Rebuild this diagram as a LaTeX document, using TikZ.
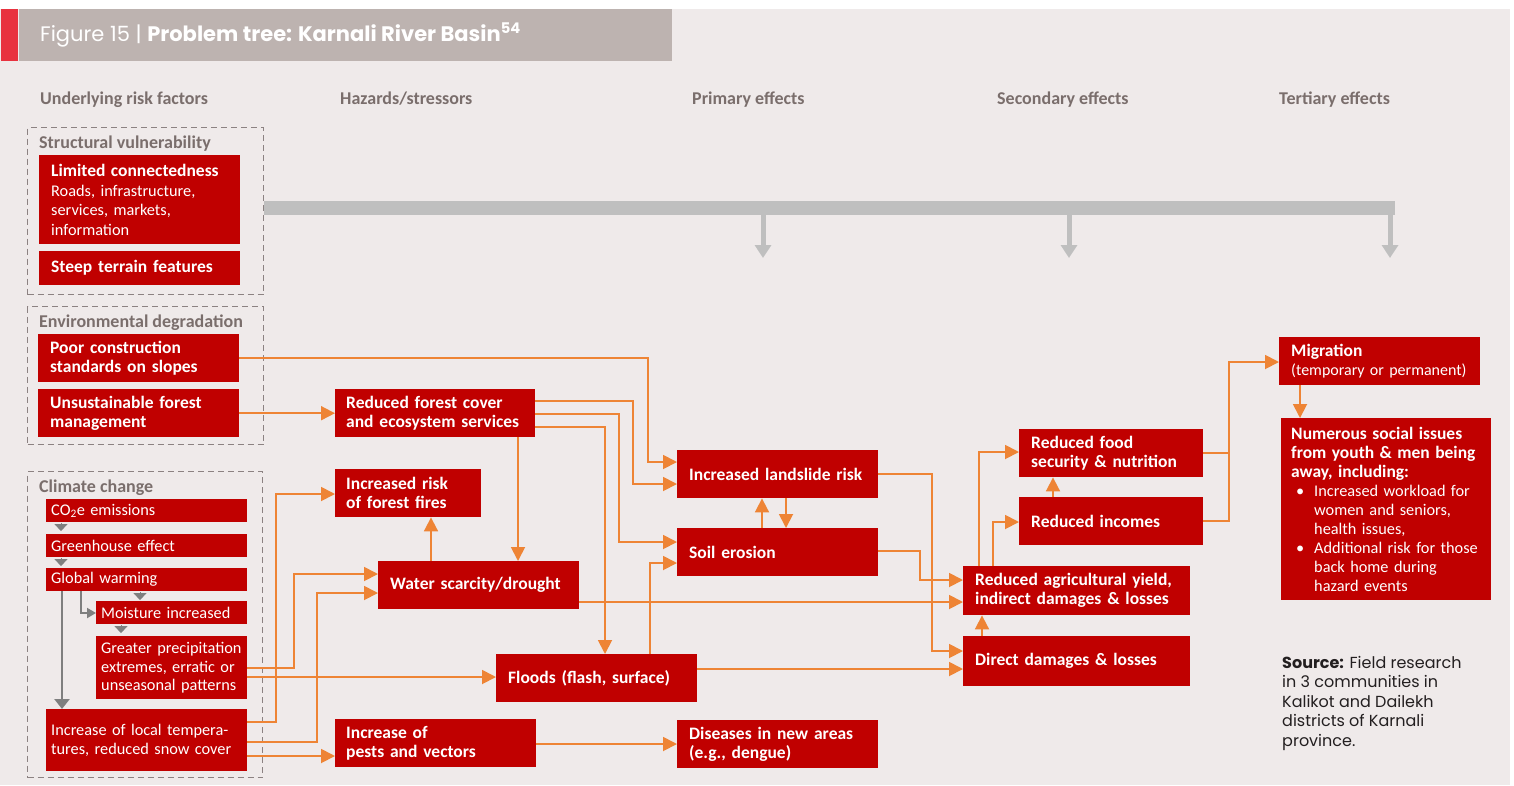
\documentclass[tikz,border=0pt]{standalone}
\usepackage{fontspec}
\setmainfont{Carlito}
\newfontfamily\popfont{Poppins}
\usetikzlibrary{arrows.meta}
\definecolor{bg}{HTML}{EFEAEA}
\definecolor{boxred}{HTML}{C00000}
\definecolor{titlegray}{HTML}{BDB3B0}
\definecolor{accentred}{HTML}{E8323F}
\definecolor{headgray}{HTML}{7A6E6C}
\definecolor{dashgray}{HTML}{8C8282}
\definecolor{wire}{HTML}{EE8435}
\definecolor{busgray}{HTML}{BFBFBF}
\definecolor{stepgray}{HTML}{7F7F7F}
\definecolor{srctext}{HTML}{231F20}
\begin{document}
\begin{tikzpicture}[x=1pt,y=-1pt,
  rbox/.style={fill=boxred,text=white,anchor=north west,inner xsep=12pt,inner ysep=0pt,
    align=left,font=\fontsize{17.5}{19}\selectfont\bfseries},
  sbox/.style={fill=boxred,text=white,anchor=north west,inner xsep=5pt,inner ysep=0pt,
    align=left,font=\fontsize{16.3}{18.5}\selectfont},
  grp/.style={draw=dashgray,line width=1.2pt,dash pattern=on 6pt off 4pt,anchor=north west,inner sep=0pt},
  grptitle/.style={anchor=base west,inner sep=0pt,text=headgray,font=\fontsize{18}{20}\selectfont\bfseries},
  colhead/.style={anchor=base west,inner sep=0pt,text=headgray,font=\fontsize{18}{20}\selectfont\bfseries},
  wirearrow/.style={draw=wire,line width=1.8pt,-{Triangle[length=14pt,width=14pt]}},
  wireplain/.style={draw=wire,line width=1.8pt},
  steptip/.style={draw=stepgray,line width=0.1pt,-{Triangle[length=7pt,width=13pt]}},
  stepline/.style={draw=stepgray,line width=2.5pt,-{Triangle[length=10pt,width=15pt]}},
  stepbend/.style={draw=stepgray,line width=2pt,-{Triangle[length=9pt,width=10pt]}},
  drop/.style={draw=busgray,line width=5pt,-{Triangle[length=13pt,width=16pt]}},
]
\useasboundingbox (0,0) rectangle (1514,785);
\fill[white] (0,0) rectangle (1514,785);
\fill[bg] (0,9) rectangle (1510,785);

% title band
\fill[accentred] (1,9) rectangle (18,61);
\fill[titlegray] (19,9) rectangle (672,61);
\node[anchor=base west,inner sep=0pt,text=white,font=\popfont\fontsize{21}{24}\selectfont] (title) at (40,41)
  {Figure 15 | \textbf{Problem tree: Karnali River Basin\textsuperscript{54}}};

% column headings
\node[colhead] (h1) at (40,104) {Underlying risk factors};
\node[colhead] (h2) at (340,104) {Hazards/stressors};
\node[colhead] (h3) at (692,104) {Primary effects};
\node[colhead] (h4) at (997,104) {Secondary effects};
\node[colhead] (h5) at (1279,104) {Tertiary effects};

% groups of underlying risk factors
\node[grp,minimum width=236pt,minimum height=167pt] (sv) at (27,127) {};
\node[grp,minimum width=236pt,minimum height=138pt] (ed) at (27,306) {};
\node[grp,minimum width=235pt,minimum height=306pt] (cc) at (27,471) {};
\node[grptitle] (svt) at (39,148) {Structural vulnerability};
\node[grptitle] (edt) at (39,327) {Environmental degradation};
\node[grptitle] (cct) at (39,492) {Climate change};

\node[rbox,text width=177pt,minimum height=89pt,font=\fontsize{16.3}{19.5}\selectfont] (lc) at (39,155)
  {{\fontsize{17.5}{19.5}\selectfont\bfseries Limited connectedness}\\Roads, infrastructure,\\services, markets,\\information};
\node[rbox,text width=177pt,minimum height=34pt] (steep) at (39,251) {Steep terrain features};
\node[rbox,text width=177pt,minimum height=48pt] (poor) at (38,334) {Poor construction\\standards on slopes};
\node[rbox,text width=177pt,minimum height=48pt] (unsust) at (38,389) {Unsustainable forest\\management};

\node[sbox,text width=191pt,minimum height=23pt] (co2) at (46,499) {CO\textsubscript{2}e emissions};
\node[sbox,text width=191pt,minimum height=23pt] (gh) at (46,534) {Greenhouse effect};
\node[sbox,text width=191pt,minimum height=23pt] (gw) at (46,568) {Global warming};
\node[sbox,text width=141pt,minimum height=23pt] (moist) at (96,601) {Moisture increased};
\node[sbox,text width=141pt,minimum height=63pt] (precip) at (96,636)
  {\mbox{Greater precipitation}\\\mbox{extremes, erratic or}\\\mbox{unseasonal patterns}};
\node[sbox,text width=191pt,minimum height=62pt] (localt) at (46,709) {\mbox{Increase of local tempera-}\\\mbox{tures, reduced snow cover}};

% hazards / stressors
\node[rbox,inner xsep=11pt,text width=178pt,minimum height=48pt] (forest) at (335,389) {Reduced forest cover\\and ecosystem services};
\node[rbox,inner xsep=11pt,text width=124pt,minimum height=48pt] (fires) at (335,469) {Increased risk\\of forest fires};
\node[rbox,text width=177pt,minimum height=48pt] (water) at (378,561) {Water scarcity/drought};
\node[rbox,text width=177pt,minimum height=48pt] (floods) at (496,654) {Floods (flash, surface)};
\node[rbox,inner xsep=11pt,text width=179pt,minimum height=48pt] (pests) at (335,719) {Increase of\\pests and vectors};

% primary effects
\node[rbox,text width=177pt,minimum height=48pt] (landslide) at (677,450) {Increased landslide risk};
\node[rbox,text width=177pt,minimum height=48pt] (soil) at (677,528) {Soil erosion};
\node[rbox,text width=177pt,minimum height=48pt] (disease) at (677,720) {Diseases in new areas\\(e.g., dengue)};

% secondary effects
\node[rbox,text width=203pt,minimum height=49pt] (agri) at (963,566) {\mbox{Reduced agricultural yield,}\\\mbox{indirect damages \& losses}};
\node[rbox,text width=203pt,minimum height=50pt] (direct) at (963,636) {Direct damages \& losses};
\node[rbox,text width=160pt,minimum height=48pt] (incomes) at (1019,497) {Reduced incomes};
\node[rbox,text width=160pt,minimum height=48pt] (food) at (1019,429) {Reduced food\\security \& nutrition};

% tertiary effects
\node[rbox,text width=177pt,minimum height=48pt,font=\fontsize{16}{19}\selectfont] (migr) at (1279,337)
  {{\fontsize{17.5}{19}\selectfont\bfseries Migration}\\\mbox{(temporary or permanent)}};
\node[rbox,inner xsep=10pt,text width=190pt,minimum height=182pt,font=\fontsize{16.3}{19}\selectfont] (social) at (1281,418)
  {{\fontsize{17.5}{19}\selectfont\bfseries \mbox{Numerous social issues}\\\mbox{from youth \& men being}\\away, including:}\\
   \makebox[23pt][l]{\hspace*{5pt}\textbullet}\mbox{Increased workload for}\\
   \hspace*{23pt}women and seniors,\\
   \hspace*{23pt}health issues,\\
   \makebox[23pt][l]{\hspace*{5pt}\textbullet}\mbox{Additional risk for those}\\
   \hspace*{23pt}back home during\\
   \hspace*{23pt}hazard events};

% source note
\node[anchor=north west,inner sep=0pt,align=left,text=srctext,font=\popfont\fontsize{16}{19.5}\selectfont] (src) at (1282,656)
  {\textbf{Source:} Field research\\in 3 communities in\\Kalikot and Dailekh\\districts of Karnali\\province.};

% structural vulnerability feeds every effect column
\coordinate (busR) at (1395,208);
\coordinate (d1) at (763,258);
\coordinate (d2) at (1069,258);
\coordinate (d3) at (1390,258);
\draw[busgray,line width=14pt] (sv.east |- busR) -- (busR);
\draw[drop] (763,214) -- (d1);
\draw[drop] (1069,214) -- (d2);
\draw[drop] (1390,214) -- (d3);

% climate change chain
\draw[steptip] (61,523) -- (61,531);
\draw[steptip] (61,558) -- (61,566);
\draw[steptip] (140,592) -- (140,600);
\draw[steptip] (121,625) -- (121,633);
\draw[stepline] (gw.south -| 62,0) -- (localt.north -| 62,0);
\draw[stepbend] (gw.south -| 81,0) |- (moist.west |- 0,613);

% hazard links
\draw[wirearrow] (poor.east) -| (648,462) -- (landslide.west |- 0,462);
\draw[wirearrow] (unsust.east) -- (forest.west);
\draw[wirearrow] (forest.east |- 0,401) -| (633,484) -- (landslide.west |- 0,484);
\draw[wirearrow] (forest.east |- 0,414) -| (619,542) -- (soil.west |- 0,542);
\draw[wirearrow] (forest.east |- 0,427) -| (605,0 |- floods.north);
\draw[wirearrow] (forest.south -| 518,0) -- (water.north -| 518,0);
\draw[wirearrow] (water.north -| 431,0) -- (fires.south -| 431,0);
\draw[wirearrow] (precip.east |- 0,668) -| (294,574) -- (water.west |- 0,574);
\draw[wirearrow] (precip.east |- 0,677) -- (floods.west |- 0,677);
\draw[wirearrow] (localt.east |- 0,722) -| (276,494) -- (fires.west |- 0,494);
\draw[wirearrow] (localt.east |- 0,742) -| (317,593) -- (water.west |- 0,593);
\draw[wirearrow] (localt.east |- 0,756) -- (pests.west |- 0,756);
\draw[wirearrow] (pests.east |- 0,744) -- (disease.west |- 0,744);

% primary effect links
\draw[wirearrow] (floods.north -| 650,0) |- (soil.west |- 0,563);
\draw[wirearrow] (soil.north -| 762,0) -- (landslide.south -| 762,0);
\draw[wirearrow] (landslide.south -| 786,0) -- (soil.north -| 786,0);
\draw[wirearrow] (water.east |- 0,602) -- (agri.west |- 0,602);
\draw[wirearrow] (landslide.east |- 0,474) -| (932,651) -- (direct.west |- 0,651);
\draw[wirearrow] (soil.east |- 0,551) -| (920,580) -- (agri.west |- 0,580);
\draw[wirearrow] (floods.east |- 0,669) -- (direct.west |- 0,669);

% secondary effect links
\draw[wirearrow] (direct.north -| 982,0) -- (agri.south -| 982,0);
\draw[wirearrow] (agri.north -| 979,0) |- (food.west |- 0,452);
\draw[wirearrow] (agri.north -| 993,0) |- (incomes.west |- 0,522);
\draw[wirearrow] (incomes.north -| 1053,0) -- (food.south -| 1053,0);
\draw[wireplain] (food.east |- 0,453) -- (1229,453);
\draw[wirearrow] (incomes.east |- 0,521) -| (1229,362) -- (migr.west |- 0,362);
\draw[wirearrow] (migr.south -| 1300,0) -- (social.north -| 1300,0);
\end{tikzpicture}
\end{document}
